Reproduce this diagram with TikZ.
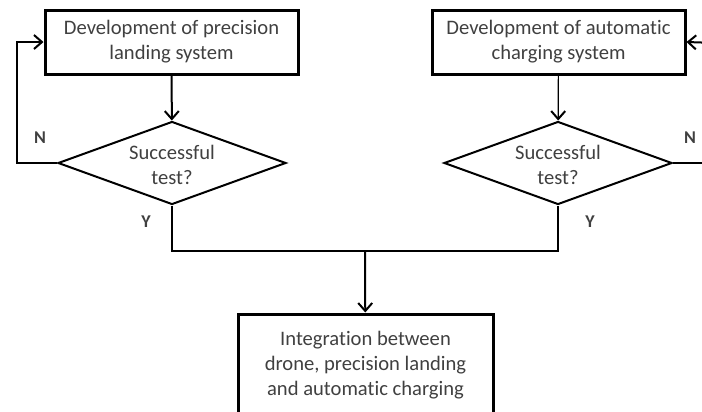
\documentclass[tikz,border=0pt]{standalone}
\usepackage{fontspec}
\setmainfont{Carlito}[Ligatures=NoCommon]
\usetikzlibrary{shapes.geometric,arrows.meta}
\definecolor{txtgray}{HTML}{404040}
\begin{document}
\begin{tikzpicture}[x=0.5pt,y=-0.5pt,
	box/.style={draw,line width=1.5pt,minimum width=126.5pt,minimum height=32pt,
		inner sep=0pt,align=center,text=txtgray,font=\fontsize{10.3}{12.5}\selectfont},
	decision/.style={draw,diamond,line width=1pt,minimum width=114pt,minimum height=41.5pt,
		inner sep=0pt},
	dtext/.style={align=center,text=txtgray,font=\fontsize{10.3}{12.5}\selectfont},
	flow/.style={line width=1pt},
	flowarrow/.style={flow,-{Straight Barb[length=4pt,width=7pt,line width=1pt]}},
	yn/.style={font=\fontsize{9}{10}\bfseries\selectfont,text=txtgray}]
	\clip (0,0) rectangle (702,412);
	\node[box] (land) at (171.5,42) {Development of precision\\landing system};
	\node[box] (charge) at (558.5,42) {Development of automatic\\charging system};
	\node[decision] (testL) at (172,163) {};
	\node[dtext] (qL) at (172,165) {Successful\\test?};
	\node[decision] (testR) at (558,163) {};
	\node[dtext] (qR) at (558,165) {Successful\\test?};
	\node[box,minimum width=127.5pt,minimum height=51pt] (integ) at (365.5,365)
		{Integration between\\drone, precision landing\\and automatic charging};
	\coordinate (join) at (365,251);
	\coordinate (backL) at (17,163);
	\coordinate (outR) at (716,163);
	\coordinate (inR) at (716,43);
	\draw[flowarrow] (land) -- (testL);
	\draw[flowarrow,line width=0.6pt] (charge) -- (testR);
	\draw[flowarrow] (testL.west) -- (backL) |- (land.west);
	\draw[flow] (testR.east) -- (outR);
	\draw[flowarrow] (inR) -- (charge.east);
	\draw[flow] (testL.south) |- (join) -| (testR.south);
	\draw[flowarrow] (join) -- (integ);
	\node[yn] (nL) at (40,138) {N};
	\node[yn] (yL) at (146,222) {Y};
	\node[yn] (nR) at (690,138) {N};
	\node[yn] (yR) at (590,222) {Y};
\end{tikzpicture}
\end{document}
